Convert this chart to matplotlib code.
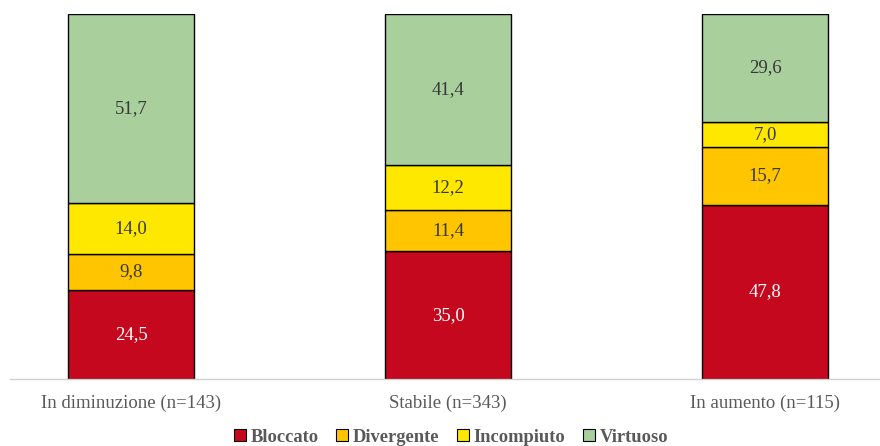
import matplotlib
matplotlib.use("Agg")
import matplotlib.pyplot as plt
from matplotlib.patches import Patch
import numpy as np

categories = ["In diminuzione (n=143)", "Stabile (n=343)", "In aumento (n=115)"]
series_names = ["Bloccato", "Divergente", "Incompiuto", "Virtuoso"]
bloccato = [24.5, 35.0, 47.8]
divergente = [9.8, 11.4, 15.7]
incompiuto = [14.0, 12.2, 7.0]
virtuoso = [51.7, 41.4, 29.6]

colors = ["#C5081E", "#FFC600", "#FFE800", "#A8CF9C"]
text_colors = ["white", "#383838", "#383838", "#383838"]

plt.rcParams["font.family"] = ["Liberation Serif", "DejaVu Serif"]

fig = plt.figure(figsize=(8.8, 4.46), dpi=100)
ax = fig.add_axes([10 / 880, 67 / 446, 870 / 880, 365 / 446])

x = np.arange(len(categories))
width = 0.4
bottom = np.zeros(len(categories))
for vals, col, tc in zip([bloccato, divergente, incompiuto, virtuoso], colors, text_colors):
    vals = np.array(vals)
    ax.bar(x, vals, width, bottom=bottom, color=col, edgecolor="black", linewidth=1.0)
    for xi, b, v in zip(x, bottom, vals):
        ax.text(xi, b + v / 2, f"{v:.1f}".replace(".", ","), ha="center", va="center",
                fontsize=13.5, color=tc)
    bottom += vals

ax.set_xlim(-0.382, 2.363)
ax.set_ylim(0, 100)
ax.set_xticks(x)
ax.set_xticklabels(categories, fontsize=13.5, color="#595959")
ax.tick_params(axis="x", length=0, pad=11)
ax.set_yticks([])
for s in ["top", "left", "right"]:
    ax.spines[s].set_visible(False)
ax.spines["bottom"].set_color("#D0D0D0")
ax.spines["bottom"].set_linewidth(1.0)

handles = [Patch(facecolor=c, edgecolor="black", linewidth=0.8) for c in colors]
fig.legend(handles, series_names, loc="center", bbox_to_anchor=(451 / 880, 1 - 437 / 446),
           ncol=4, frameon=False, prop={"weight": "bold", "size": 13.3},
           labelcolor="#595959", handlelength=0.65, handleheight=0.65,
           handletextpad=0.25, columnspacing=0.95)

fig.savefig("out.png", dpi=100)
